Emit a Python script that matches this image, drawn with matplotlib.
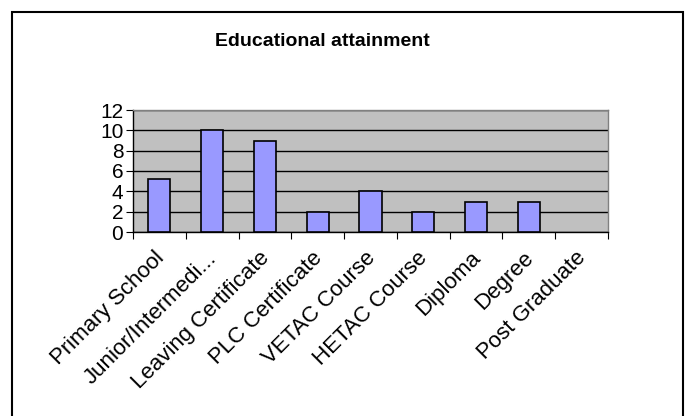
import matplotlib
matplotlib.use("Agg")
import matplotlib.pyplot as plt
from matplotlib.patches import Rectangle
from matplotlib.transforms import ScaledTranslation

categories = ["Primary School", "Junior/Intermedi...", "Leaving Certificate",
              "PLC Certificate", "VETAC Course", "HETAC Course", "Diploma",
              "Degree", "Post Graduate"]
values = [5.2, 10, 9, 2, 4, 2, 3, 3, 0]
yticks = [0, 2, 4, 6, 8, 10, 12]
title = "Educational attainment"

plt.rcParams['font.family'] = ['Liberation Sans', 'DejaVu Sans']

fig = plt.figure(figsize=(6.87, 4.16), dpi=100)
ax = fig.add_axes([133/687, 1-232/416, (608-133)/687, (232-110)/416])
ax.set_facecolor('#C0C0C0')

x = list(range(len(categories)))
lws = [1.2 if v > 0 else 0 for v in values]
ax.bar(x, values, width=0.42, color='#9999FF', edgecolor='black', linewidth=lws, zorder=3)

ax.set_xlim(-0.5, len(categories)-0.5)
ax.set_ylim(0, 12)
ax.set_yticks(yticks)
ax.set_yticklabels([str(t) for t in yticks], fontsize=15)
ax.yaxis.grid(True, color='black', linewidth=1, zorder=1)
ax.set_axisbelow(True)

ax.set_xticks([i - 0.5 for i in range(len(categories)+1)])
ax.set_xticklabels([])
ax.set_xticks(x, minor=True)
ax.set_xticklabels(categories, minor=True, rotation=45, ha='right',
                   rotation_mode='anchor', fontsize=16)
ax.tick_params(axis='x', which='minor', length=0, pad=9)
ax.tick_params(axis='x', which='major', length=5, color='black', direction='out')
ax.tick_params(axis='y', length=5, direction='out', pad=2)

offset = ScaledTranslation(-6/100, -3/100, fig.dpi_scale_trans)
for lbl in ax.get_xticklabels(minor=True):
    lbl.set_transform(lbl.get_transform() + offset)

for s in ['left', 'bottom']:
    ax.spines[s].set_color('black')
    ax.spines[s].set_linewidth(1)
for s in ['top', 'right']:
    ax.spines[s].set_color('#808080')
    ax.spines[s].set_linewidth(1)

fig.text(322/687, 1-41/416, title, ha='center', va='center',
         fontsize=14, fontweight='bold')

fig.patches.append(Rectangle((12/687, -0.05), (683-12)/687, (1.05 - 12/416),
                             transform=fig.transFigure, fill=False,
                             edgecolor='black', linewidth=1.5))

fig.savefig('out.png', dpi=100)
